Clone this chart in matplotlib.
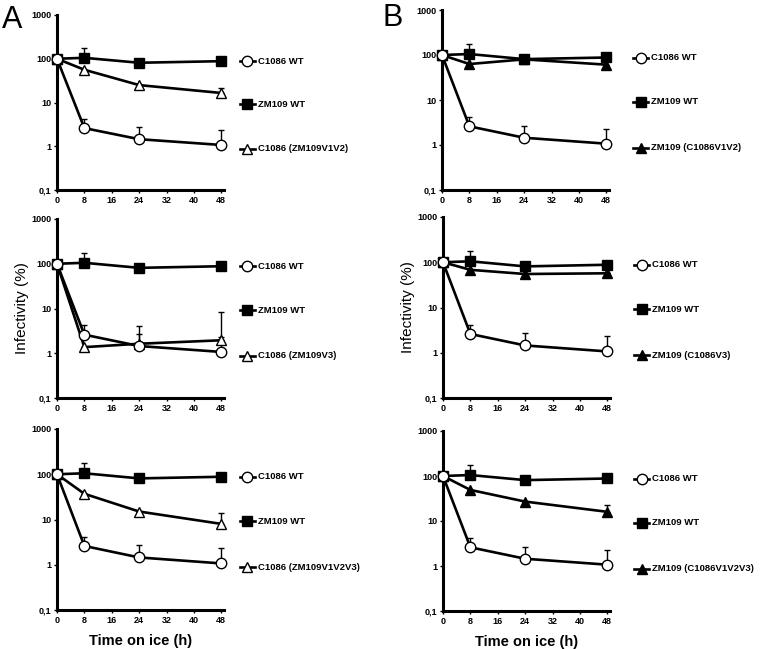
import numpy as np
import matplotlib.pyplot as plt
from matplotlib.ticker import FixedLocator, NullLocator

plt.rcParams['font.family'] = ['Liberation Sans', 'DejaVu Sans']

# time points (h)
times = [0, 8, 24, 48]
xticks = [0, 8, 16, 24, 32, 40, 48]
yticks = [0.1, 1, 10, 100, 1000]
ytick_labels = ['0,1', '1', '10', '100', '1000']

# wild-type viruses (same in every panel)
c1086_wt = [100, 2.6, 1.45, 1.07]
c1086_wt_err = [100, 4.2, 2.7, 2.3]      # top of error bar
zm109_wt = [100, 105, 81, 88]
zm109_wt_err = [100, 175, 81, 105]

# chimeras, panel A (open triangles)
a_names = ['C1086 (ZM109V1V2)', 'C1086 (ZM109V3)', 'C1086 (ZM109V1V2V3)']
a_vals = [[100, 56, 25, 16.5],
          [100, 1.37, 1.63, 1.95],
          [100, 37, 15, 8.0]]
a_err = [[100, 56, 25, 22],
         [100, 1.37, 4.0, 8.3],
         [100, 37, 15, 14]]

# chimeras, panel B (filled triangles)
b_names = ['ZM109 (C1086V1V2)', 'ZM109 (C1086V3)', 'ZM109 (C1086V1V2V3)']
b_vals = [[100, 63, 80, 61],
          [100, 68, 55, 57],
          [100, 49, 27, 16]]
b_err = [[100, 63, 80, 61],
         [100, 68, 55, 57],
         [100, 49, 27, 22.6]]

W, H = 760, 649
fig = plt.figure(figsize=(W / 100, H / 100), dpi=100)

LW = 1.9
def draw_series(ax, y, ytop, marker, mfc, ms):
    y = np.array(y)
    up = np.array(ytop) - y
    ax.errorbar(times, y, yerr=[np.zeros_like(up), up], fmt='none', ecolor='black',
                elinewidth=1.0, capsize=2, capthick=1.0, zorder=2)
    ax.plot(times, y, color='black', lw=LW, marker=marker, ms=ms, mfc=mfc,
            mec='black', mew=1.0, zorder=3, clip_on=False)

def legend_entry(ax, xm, yfrac, marker, mfc, ms, text):
    ax.plot([xm - 0.045, xm + 0.045], [yfrac, yfrac], transform=ax.transAxes, color='black',
            lw=LW, clip_on=False)
    ax.plot([xm], [yfrac], transform=ax.transAxes, marker=marker, ms=ms, mfc=mfc,
            mec='black', mew=1.0, color='black', clip_on=False)
    ax.text(xm + 0.062, yfrac, text, transform=ax.transAxes, fontsize=6.8, fontweight='bold',
            va='center', ha='left')

def setup(ax):
    ax.set_yscale('log')
    ax.set_ylim(0.1, 1000)
    ax.set_xlim(0, 48.8)
    ax.yaxis.set_major_locator(FixedLocator(yticks))
    ax.yaxis.set_minor_locator(NullLocator())
    ax.set_yticklabels(ytick_labels)
    ax.set_xticks(xticks)
    ax.set_xticklabels([str(t) for t in xticks])
    for s in ['top', 'right']:
        ax.spines[s].set_visible(False)
    for s in ['left', 'bottom']:
        ax.spines[s].set_linewidth(2.2)
    ax.tick_params(labelsize=6.5, width=1.0, length=2.5, pad=1.5)
    for lab in ax.get_xticklabels() + ax.get_yticklabels():
        lab.set_fontweight('bold')

# axes boxes in pixels: (left, y of 1000, y of 0.1)
a_boxes = [(57, 15, 190), (57, 219, 398), (57, 429, 610)]
b_boxes = [(442, 10, 190), (443, 217, 398), (443, 431, 611)]
ax_w = 167

for col, (boxes, names, vals, errs, mfc, xm) in enumerate([
        (a_boxes, a_names, a_vals, a_err, 'white', 1.14),
        (b_boxes, b_names, b_vals, b_err, 'black', 1.19)]):
    for i in range(3):
        left, top, bot = boxes[i]
        ax = fig.add_axes([left / W, (H - bot) / H, ax_w / W, (bot - top) / H])
        setup(ax)
        draw_series(ax, vals[i], errs[i], '^', mfc, 7.5)
        draw_series(ax, zm109_wt, zm109_wt_err, 's', 'black', 6.8)
        draw_series(ax, c1086_wt, c1086_wt_err, 'o', 'white', 7.5)
        legend_entry(ax, xm, 0.735, 'o', 'white', 7.5, 'C1086 WT')
        legend_entry(ax, xm, 0.49, 's', 'black', 6.8, 'ZM109 WT')
        legend_entry(ax, xm, 0.235, '^', mfc, 7.5, names[i])
        if i == 1:
            ax.set_ylabel('Infectivity (%)', fontsize=11, labelpad=2)
        if i == 2:
            ax.set_xlabel('Time on ice (h)', fontsize=10.5, fontweight='bold', labelpad=7)

fig.text(2 / W, 1 - 5 / H, 'A', fontsize=22, va='top', ha='left')
fig.text(383 / W, 1 - 3 / H, 'B', fontsize=22, va='top', ha='left')

fig.savefig('out.png', dpi=100)
